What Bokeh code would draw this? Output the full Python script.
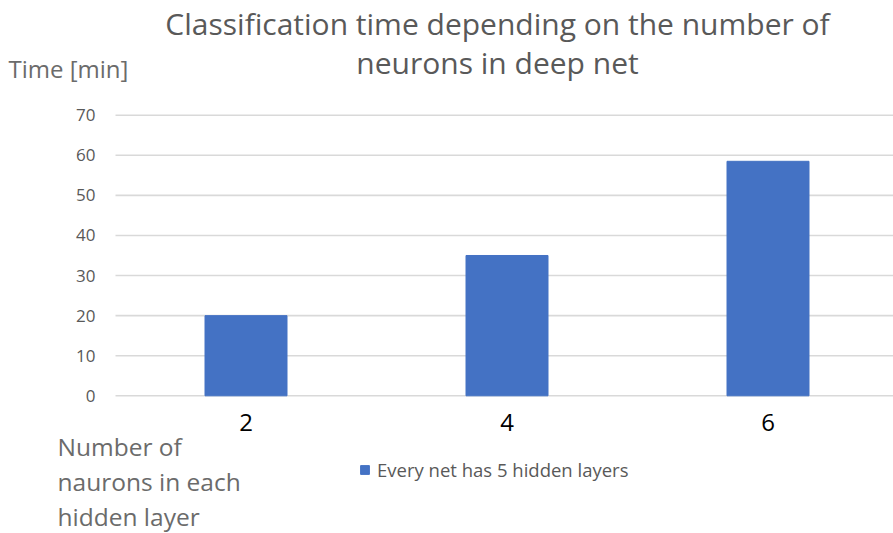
from bokeh.plotting import figure
from bokeh.models import Range1d, Label, Legend, LegendItem, ColumnDataSource
from bokeh.core.properties import value
from bokeh.embed import file_html
from bokeh.resources import INLINE

# ---- data ----
neurons = [2, 4, 6]
times = [20, 35, 58.5]
tick_labels = ["2", "4", "6"]
y_ticks = [0, 10, 20, 30, 40, 50, 60, 70]
y_tick_labels = ["0", "10", "20", "30", "40", "50", "60", "70"]
series_name = "Every net has 5 hidden layers"
title_lines = ["Classification time depending on the number of", "neurons in deep net"]
y_title = "Time [min]"
x_title_lines = ["Number of", "naurons in each", "hidden layer"]

W, H = 893, 533
# plot-area geometry in pixels
PX_LEFT = 115.0        # left end of gridlines
PX_Y0 = 395.3          # pixel row of value 0
PX_PER_X = 130.5       # pixels per x unit (x=1 at PX_LEFT)
PX_PER_Y = 4.0086      # pixels per minute

FONT = "Open Sans"
GRAY = "#595959"
LGRAY = "#6b6b6b"
BLUE = "#4472C4"

x_start = 1 - PX_LEFT / PX_PER_X
x_end = 1 + (W - PX_LEFT) / PX_PER_X
y_end = PX_Y0 / PX_PER_Y
y_start = -(H - PX_Y0) / PX_PER_Y


def dx(px):
    return 1 + (px - PX_LEFT) / PX_PER_X


def dy(py):
    return (PX_Y0 - py) / PX_PER_Y


p = figure(width=W, height=H, output_backend="svg", toolbar_location=None,
           x_range=Range1d(x_start, x_end), y_range=Range1d(y_start, y_end),
           x_axis_type=None, y_axis_type=None,
           min_border=0, min_border_left=0, min_border_right=0,
           min_border_top=0, min_border_bottom=0)
p.outline_line_color = None
p.background_fill_color = "white"
p.border_fill_color = "white"
p.xgrid.visible = False
p.ygrid.visible = False

# gridlines from the y tick values
p.segment(x0=[dx(PX_LEFT)] * len(y_ticks), x1=[x_end] * len(y_ticks),
          y0=y_ticks, y1=y_ticks, line_color="#d9d9d9", line_width=1.6)

# bars
src = ColumnDataSource(dict(x=neurons, top=times))
r = p.vbar(x="x", top="top", bottom=0, width=82 / PX_PER_X, source=src,
           fill_color=BLUE, line_color=BLUE)

# y tick labels
p.text(x=[dx(95)] * len(y_ticks), y=y_ticks, text=y_tick_labels,
       text_font=value(FONT), text_font_size="17px", text_color=GRAY,
       text_align="right", text_baseline="middle")

# x tick labels
p.text(x=neurons, y=[dy(422)] * len(neurons), text=tick_labels,
       text_font=value(FONT), text_font_size="24px", text_color="black",
       text_align="center", text_baseline="middle")


def sy(py):
    return H - py


# title (centres of the two lines)
for line, cy in zip(title_lines, [23, 62]):
    p.add_layout(Label(x=497, y=sy(cy), x_units="screen", y_units="screen",
                       text=line, text_font=FONT, text_font_size="30px",
                       text_color=GRAY, text_align="center", text_baseline="middle"))

# y axis title
p.add_layout(Label(x=8, y=sy(68), x_units="screen", y_units="screen",
                   text=y_title, text_font=FONT, text_font_size="24px",
                   text_color=LGRAY, text_align="left", text_baseline="middle"))

# x axis title
for line, cy in zip(x_title_lines, [446, 481, 516]):
    p.add_layout(Label(x=57, y=sy(cy), x_units="screen", y_units="screen",
                       text=line, text_font=FONT, text_font_size="24.5px",
                       text_color=LGRAY, text_align="left", text_baseline="middle"))

# legend
legend = Legend(items=[LegendItem(label=series_name, renderers=[r])],
                location=(359, sy(482)), orientation="horizontal",
                glyph_width=11, glyph_height=11, label_height=12,
                label_standoff=7, padding=0, margin=0, spacing=0,
                border_line_color=None, background_fill_alpha=0,
                label_text_font=FONT, label_text_font_size="18.5px",
                label_text_color=GRAY)
p.add_layout(legend, "center")

open("out.html", "w").write(file_html(p, INLINE))
